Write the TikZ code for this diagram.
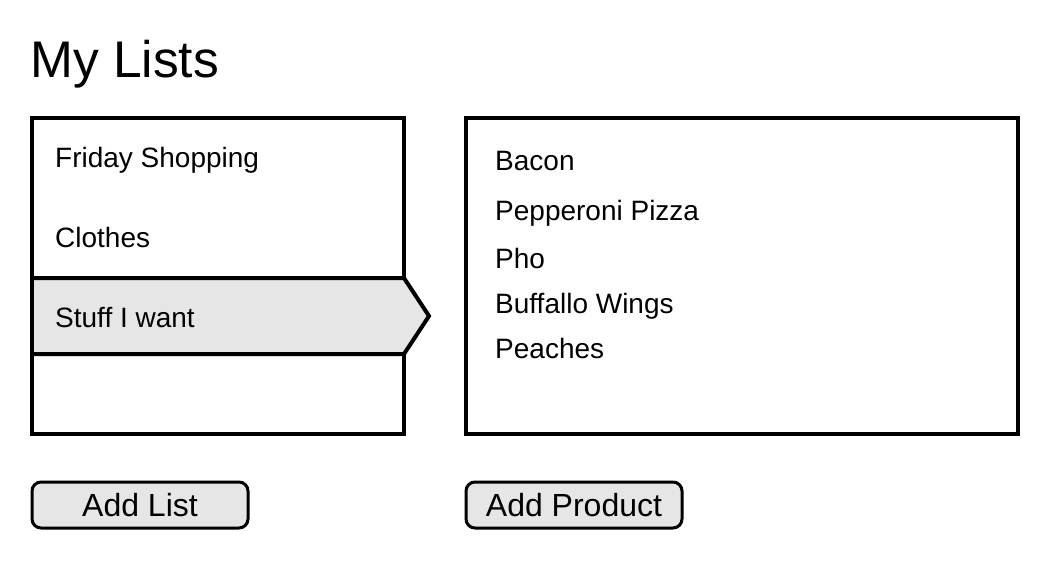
\documentclass[tikz,border=0pt]{standalone}
\usepackage{fontspec}
\setmainfont{Liberation Sans}
\definecolor{selgray}{HTML}{E6E6E6}
\tikzset{
  frame/.style={draw=black, line width=4pt},
  item/.style={anchor=base west, inner sep=0pt, font=\fontsize{28}{32}\selectfont},
  title/.style={anchor=base west, inner sep=0pt, font=\fontsize{51.5}{58}\selectfont},
  button/.style={draw=black, fill=selgray, line width=3pt, rounded corners=9pt,
    minimum width=216pt, minimum height=46pt, inner sep=0pt, anchor=center,
    font=\fontsize{32}{36}\selectfont},
}
\begin{document}
\begin{tikzpicture}[x=1pt,y=-1pt]
\useasboundingbox (0,0) rectangle (1064,584);
\fill[white] (0,0) rectangle (1064,584);
% title
\node[title] (ttl) at (30,77) {My Lists};
% left list box
\draw[frame] (32,118) rectangle (404,434);
% selected item
\draw[frame, fill=selgray, line join=miter] (32,278) -- (404,278) -- (429,316) -- (404,354) -- (32,354);
\draw[frame] (32,118) -- (32,434);
% right box
\draw[frame] (466,118) rectangle (1018,434);
% list items
\node[item] (l1) at (55,167) {Friday Shopping};
\node[item] (l2) at (55,247) {Clothes};
\node[item] (l3) at (55,327) {Stuff I want};
% products
\node[item] (p1) at (495,170) {Bacon};
\node[item] (p2) at (495,220) {Pepperoni Pizza};
\node[item] (p3) at (495,268) {Pho};
\node[item] (p4) at (495,313) {Buffallo Wings};
\node[item] (p5) at (495,358) {Peaches};
% buttons
\node[button] (b1) at (140,505) {Add List};
\node[button] (b2) at (574,505) {Add Product};
\end{tikzpicture}
\end{document}
